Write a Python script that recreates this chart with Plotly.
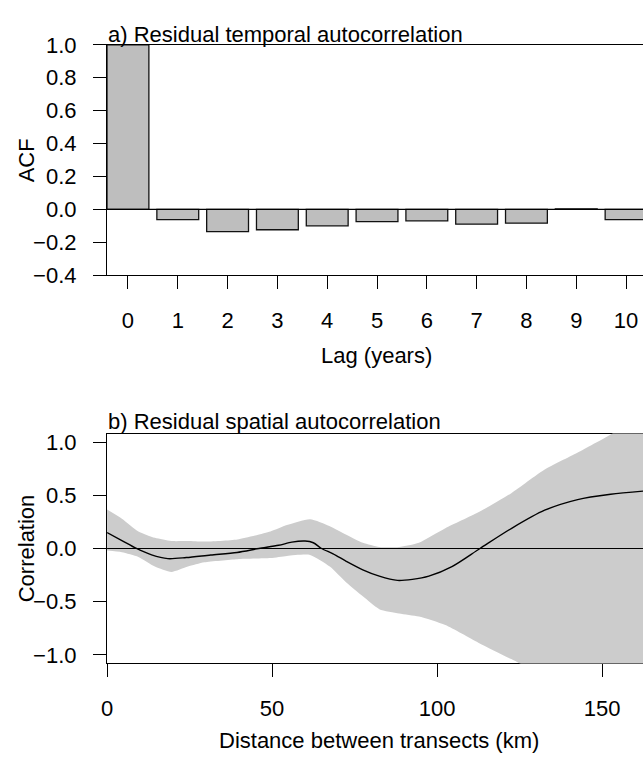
import plotly.graph_objects as go

W, H = 643, 768

# ---- panel a data ----
lags = [0, 1, 2, 3, 4, 5, 6, 7, 8, 9, 10]
acf = [1.0, -0.063, -0.135, -0.124, -0.10, -0.074, -0.07, -0.09, -0.084, 0.003, -0.063]
acf_ticks = [-0.4, -0.2, 0.0, 0.2, 0.4, 0.6, 0.8, 1.0]

# ---- panel b data ----
band_dist = [0, 4.5, 9.5, 14.5, 19.5, 24.5, 29.5, 39.5, 49.5, 54.5, 61.5, 67.5,
             72.5, 77.5, 82.5, 88.5, 94.5, 102.5, 112.5, 122.5, 132.5, 142.5, 152.5, 162.6]
band_upper = [0.366, 0.28, 0.16, 0.10, 0.07, 0.07, 0.065, 0.085, 0.16, 0.22, 0.275, 0.21,
              0.13, 0.054, 0.015, 0.015, 0.054, 0.19, 0.34, 0.52, 0.74, 0.90, 1.07, 1.25]
band_lower = [-0.02, -0.036, -0.08, -0.17, -0.22, -0.17, -0.13, -0.10, -0.09, -0.07, -0.06, -0.17,
              -0.32, -0.45, -0.57, -0.61, -0.64, -0.72, -0.885, -1.04, -1.2, -1.35, -1.5, -1.6]

curve_dist = [0, 4.5, 8.9, 13.5, 18.4, 24, 31.4, 39.4, 46, 52, 56, 60, 62.5, 65, 68.5,
              72.5, 77.5, 82.5, 88, 92.5, 97.5, 104.5, 113, 122.6, 132.6, 142.6, 152.6, 162.6]
curve_corr = [0.15, 0.075, 0.0, -0.06, -0.095, -0.085, -0.061, -0.037, 0.0, 0.03, 0.06, 0.07,
              0.054, 0.0, -0.05, -0.12, -0.20, -0.26, -0.30, -0.29, -0.26, -0.17, 0.0, 0.19,
              0.36, 0.46, 0.51, 0.54]
corr_ticks = [-1.0, -0.5, 0.0, 0.5, 1.0]
dist_ticks = [0, 50, 100, 150]

FONT = "Liberation Sans, Arial, Helvetica, sans-serif"
FS = 22


def fx(p):
    return p / W


def fy(p):
    return 1 - p / H


fig = go.Figure()

fig.add_trace(go.Bar(
    x=lags, y=acf, width=0.84,
    marker=dict(color="#BEBEBE", line=dict(color="#111111", width=1.3)),
    xaxis="x", yaxis="y", showlegend=False,
))

fig.add_trace(go.Scatter(
    x=band_dist + band_dist[::-1],
    y=band_upper + band_lower[::-1],
    fill="toself", fillcolor="#CCCCCC", mode="lines",
    line=dict(width=0, color="#CCCCCC", shape="spline", smoothing=0.6),
    xaxis="x2", yaxis="y2", showlegend=False, hoverinfo="skip",
))

fig.add_trace(go.Scatter(
    x=curve_dist, y=curve_corr, mode="lines",
    line=dict(color="black", width=1.4, shape="spline", smoothing=0.8),
    xaxis="x2", yaxis="y2", showlegend=False,
))

axis_common = dict(
    showgrid=False, zeroline=False, showline=True, linecolor="black", linewidth=1.2,
    ticks="outside", ticklen=13, tickwidth=1.2, tickcolor="black",
    tickfont=dict(family=FONT, size=FS, color="black"),
)

fig.update_layout(
    width=W, height=H,
    margin=dict(l=0, r=0, t=0, b=0),
    paper_bgcolor="white", plot_bgcolor="white",
    font=dict(family=FONT, size=FS, color="black"),
    xaxis=dict(domain=[fx(102), 1], range=[-0.42, 10.34], tickmode="array",
               tickvals=lags, ticktext=[str(v) for v in lags], mirror=True,
               ticklabelstandoff=12, anchor="y", **axis_common),
    yaxis=dict(domain=[fy(272), fy(34)], range=[-0.4, 1.0], tickmode="array",
               tickvals=acf_ticks, tickformat=".1f", ticklabelstandoff=12,
               anchor="x", **axis_common),
    xaxis2=dict(domain=[fx(102), 1], range=[0, 162.4], tickmode="array",
                tickvals=dist_ticks, mirror=True, ticklabelstandoff=12,
                anchor="y2", layer="below traces", **axis_common),
    yaxis2=dict(domain=[fy(673.3), fy(435.8)], range=[-1.08, 1.08], tickmode="array",
                tickvals=corr_ticks, tickformat=".1f", ticklabelstandoff=12,
                anchor="x2", layer="above traces", **axis_common),
    shapes=[
        dict(type="line", xref="x domain", yref="y", x0=0, x1=1, y0=0, y1=0,
             line=dict(color="black", width=1.2), layer="above"),
        dict(type="line", xref="x2 domain", yref="y2", x0=0, x1=1, y0=0, y1=0,
             line=dict(color="black", width=1.2), layer="above"),
    ],
    annotations=[
        dict(text="a) Residual temporal autocorrelation", xref="paper", yref="paper",
             x=fx(101), y=fy(23), xanchor="left", yanchor="middle", showarrow=False,
             font=dict(family=FONT, size=FS)),
        dict(text="b) Residual spatial autocorrelation", xref="paper", yref="paper",
             x=fx(101), y=fy(423), xanchor="left", yanchor="middle", showarrow=False,
             font=dict(family=FONT, size=FS)),
        dict(text="Lag (years)", xref="paper", yref="paper",
             x=fx(374), y=fy(355), xanchor="center", yanchor="middle", showarrow=False,
             font=dict(family=FONT, size=FS)),
        dict(text="Distance between transects (km)", xref="paper", yref="paper",
             x=fx(377), y=fy(753), xanchor="center", yanchor="middle", showarrow=False,
             font=dict(family=FONT, size=FS)),
        dict(text="ACF", xref="paper", yref="paper", textangle=-90,
             x=fx(20.5), y=fy(153), xanchor="center", yanchor="middle", showarrow=False,
             font=dict(family=FONT, size=FS)),
        dict(text="Correlation", xref="paper", yref="paper", textangle=-90,
             x=fx(21.5), y=fy(554), xanchor="center", yanchor="middle", showarrow=False,
             font=dict(family=FONT, size=FS)),
    ],
)

fig.write_html("out.html")
